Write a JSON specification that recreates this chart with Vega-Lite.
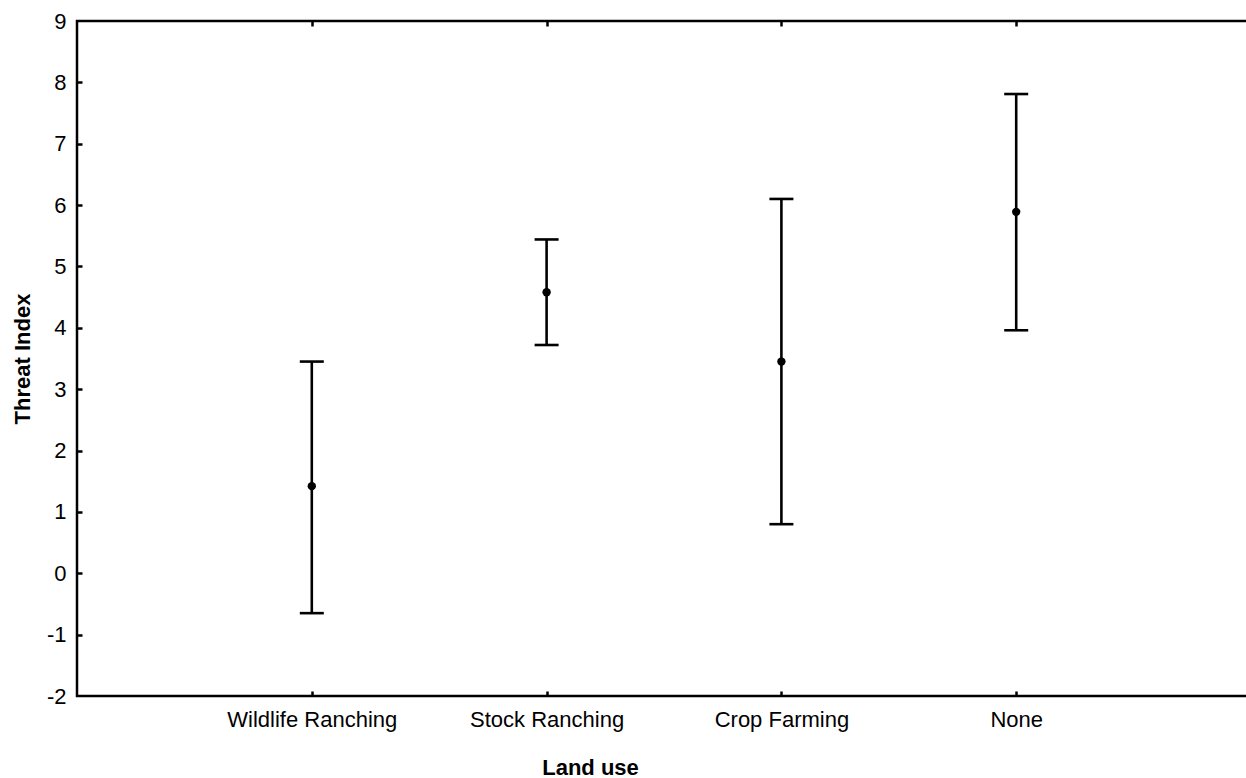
{
  "$schema": "https://vega.github.io/schema/vega-lite/v6.json",
  "autosize": {"type": "none"},
  "padding": {"left": 77, "top": 21, "right": 0, "bottom": 82},
  "width": 1174,
  "height": 675,
  "background": "white",
  "config": {
    "view": {"stroke": "black", "strokeWidth": 2.5},
    "axis": {
      "labelFont": "Liberation Sans",
      "labelFontSize": 22,
      "labelColor": "black",
      "titleFont": "Liberation Sans",
      "titleFontSize": 22,
      "titleFontWeight": "bold",
      "titleColor": "black",
      "grid": false,
      "domain": false,
      "tickColor": "black",
      "tickWidth": 2.5
    }
  },
  "data": {
    "values": [
      {"land": "Wildlife Ranching", "mean": 1.42, "lower": -0.65, "upper": 3.45},
      {"land": "Stock Ranching", "mean": 4.58, "lower": 3.72, "upper": 5.44},
      {"land": "Crop Farming", "mean": 3.45, "lower": 0.8, "upper": 6.1},
      {"land": "None", "mean": 5.89, "lower": 3.96, "upper": 7.81}
    ]
  },
  "resolve": {"axis": {"x": "independent", "y": "independent"}},
  "layer": [
    {
      "mark": {"type": "rule", "color": "black", "strokeWidth": 2.6},
      "encoding": {
        "x": {
          "field": "land", "type": "nominal",
          "sort": ["Wildlife Ranching", "Stock Ranching", "Crop Farming", "None"],
          "scale": {"type": "point", "padding": 1},
          "axis": {"orient": "bottom", "title": "Land use", "labelAngle": 0, "ticks": false, "tickSize": 0, "labelPadding": 13, "titleX": 513, "titlePadding": 27}
        },
        "y": {
          "field": "lower", "type": "quantitative",
          "scale": {"domain": [-2, 9], "nice": false, "zero": false},
          "axis": {"orient": "left", "title": "Threat Index", "values": [-2, -1, 0, 1, 2, 3, 4, 5, 6, 7, 8, 9], "labelExpr": "'' + datum.value", "ticks": false, "tickSize": 0, "labelPadding": 11, "titleX": -55, "titleBaseline": "middle"}
        },
        "y2": {"field": "upper"}
      }
    },
    {
      "mark": {"type": "tick", "color": "black", "size": 24, "thickness": 2.6, "opacity": 1},
      "encoding": {
        "x": {
          "field": "land", "type": "nominal",
          "sort": ["Wildlife Ranching", "Stock Ranching", "Crop Farming", "None"],
          "axis": {"orient": "top", "title": null, "labels": false, "tickSize": -5}
        },
        "y": {
          "field": "upper", "type": "quantitative",
          "axis": {"orient": "right", "title": null, "labels": false, "tickSize": -5, "values": [-1, 0, 1, 2, 3, 4, 5, 6, 7, 8]}
        }
      }
    },
    {
      "mark": {"type": "tick", "color": "black", "size": 24, "thickness": 2.6, "opacity": 1},
      "encoding": {
        "x": {
          "field": "land", "type": "nominal",
          "sort": ["Wildlife Ranching", "Stock Ranching", "Crop Farming", "None"],
          "axis": {"orient": "bottom", "title": null, "labels": false, "tickSize": -5}
        },
        "y": {
          "field": "lower", "type": "quantitative",
          "axis": {"orient": "left", "title": null, "labels": false, "tickSize": -5, "values": [-1, 0, 1, 2, 3, 4, 5, 6, 7, 8]}
        }
      }
    },
    {
      "mark": {"type": "circle", "color": "black", "size": 70, "opacity": 1},
      "encoding": {
        "x": {
          "field": "land", "type": "nominal",
          "sort": ["Wildlife Ranching", "Stock Ranching", "Crop Farming", "None"],
          "axis": null
        },
        "y": {"field": "mean", "type": "quantitative", "axis": null}
      }
    }
  ]
}
